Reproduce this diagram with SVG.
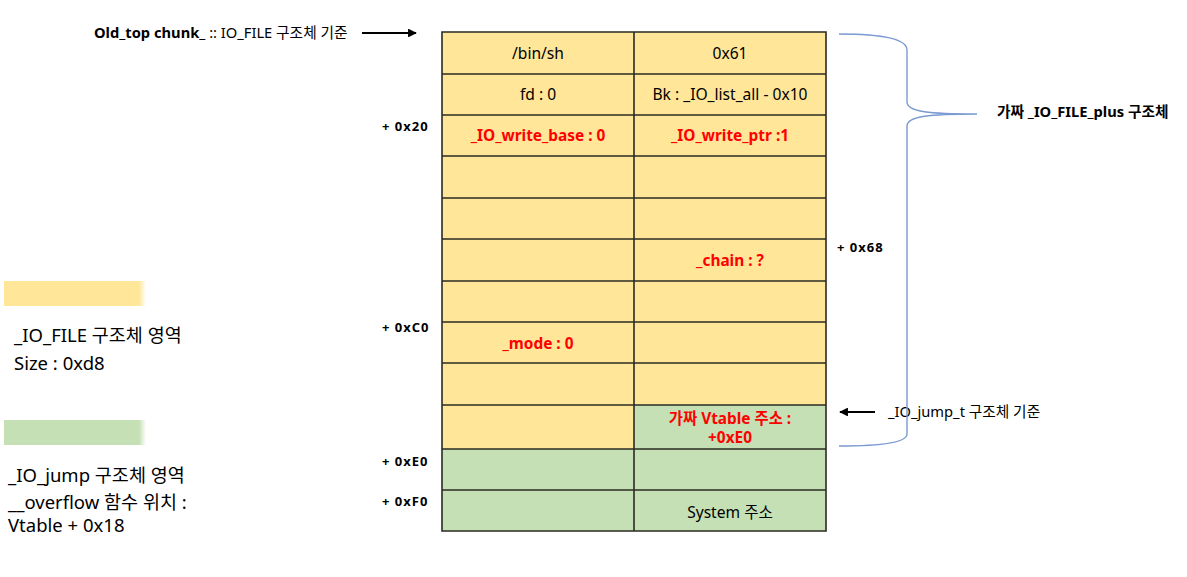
<svg xmlns="http://www.w3.org/2000/svg" width="1187" height="577" viewBox="0 0 1187 577">
<defs>
<style>
text{font-family:"Noto Sans","Noto Sans CJK KR",sans-serif;fill:#000}
.cell{font-size:15.6px;text-anchor:middle}
.red{font-size:15.4px;text-anchor:middle;font-weight:bold;fill:#ff0000}
.off{font-size:13px;font-weight:bold;letter-spacing:1px}
.leg{font-size:18.5px}
.lbl{font-size:14.7px}
.y{fill:#ffe699}
.g{fill:#c5e0b4}
.grid{stroke:#2b2b22;stroke-width:1.6;fill:none}
.brace{stroke:#7a9ad0;stroke-width:1.4;fill:none}
.arr{stroke:#000;stroke-width:2.2;fill:none}
</style>
<marker id="ah" viewBox="0 0 10 10" refX="9" refY="5" markerWidth="4.5" markerHeight="4" orient="auto-start-reverse" markerUnits="strokeWidth">
<path d="M0,0 L10,5 L0,10 z" fill="#000"/>
</marker>
<linearGradient id="fy" x1="0" x2="1" y1="0" y2="0">
<stop offset="0.95" stop-color="#ffe699"/><stop offset="1" stop-color="#ffe699" stop-opacity="0"/>
</linearGradient>
<linearGradient id="fg" x1="0" x2="1" y1="0" y2="0">
<stop offset="0.95" stop-color="#c5e0b4"/><stop offset="1" stop-color="#c5e0b4" stop-opacity="0"/>
</linearGradient>
</defs>

<g id="table">
<rect class="y" x="442" y="32" width="384" height="373"/>
<rect class="y" x="442" y="405" width="192" height="44"/>
<rect class="g" x="634" y="405" width="192" height="44"/>
<rect class="g" x="442" y="449" width="384" height="82"/>
<path class="grid" d="M442,32H826V531H442Z M634,32V531 M442,74H826 M442,115H826 M442,156H826 M442,198H826 M442,239H826 M442,281H826 M442,322H826 M442,363H826 M442,405H826 M442,449H826 M442,490H826"/>
</g>

<g id="cells">
<text class="cell" x="538" y="59">/bin/sh</text>
<text class="cell" x="730" y="59">0x61</text>
<text class="cell" x="538" y="100">fd : 0</text>
<text class="cell" x="730" y="100">Bk : _IO_list_all - 0x10</text>
<text class="red" x="538" y="141">_IO_write_base : 0</text>
<text class="red" x="730" y="141">_IO_write_ptr :1</text>
<text class="red" x="730" y="266">_chain : ?</text>
<text class="red" x="538" y="349">_mode : 0</text>
<text class="red" x="730" y="424">가짜 Vtable 주소 :</text>
<text class="red" x="730" y="443">+0xE0</text>
<text class="cell" x="730" y="518">System 주소</text>
</g>

<g id="offsets">
<text class="off" x="382" y="131">+ 0x20</text>
<text class="off" x="837" y="252">+ 0x68</text>
<text class="off" x="382" y="332">+ 0xC0</text>
<text class="off" x="382" y="466">+ 0xE0</text>
<text class="off" x="382" y="506">+ 0xF0</text>
</g>

<g id="top-label">
<text class="lbl" x="94" y="38"><tspan font-weight="bold">Old_top chunk_</tspan> :: IO_FILE 구조체 기준</text>
</g>

<g id="jump-label">
<text class="lbl" x="888" y="417">_IO_jump_t 구조체 기준</text>
</g>

<g id="brace-label">
<text class="lbl" x="997" y="117" font-weight="bold">가짜 _IO_FILE_plus 구조체</text>
</g>

<g id="legend">
<rect x="4" y="281" width="142" height="25" fill="url(#fy)"/>
<text class="leg" x="14" y="342">_IO_FILE 구조체 영역</text>
<text class="leg" x="14" y="370">Size : 0xd8</text>
<rect x="4" y="420" width="142" height="25" fill="url(#fg)"/>
<text class="leg" x="8" y="482">_IO_jump 구조체 영역</text>
<text class="leg" x="8" y="509">__overflow 함수 위치 :</text>
<text class="leg" x="8" y="532">Vtable + 0x18</text>
</g>

<g id="connectors">
<line class="arr" x1="362" y1="33" x2="416" y2="33" marker-end="url(#ah)"/>
<line class="arr" x1="875" y1="412" x2="840" y2="412" marker-end="url(#ah)"/>
<path class="brace" d="M839,34 C880,34 907,38 907,50 V102 C907,112 930,114 977,114 C930,114 907,116 907,126 V434 C907,443 880,446 839,446"/>
</g>
</svg>
